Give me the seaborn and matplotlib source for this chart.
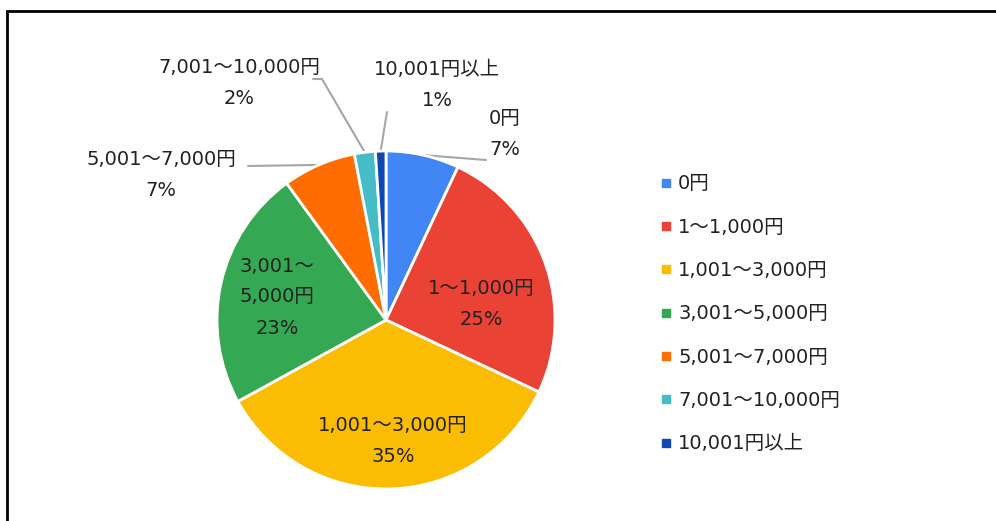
import matplotlib
matplotlib.use("Agg")
import matplotlib.pyplot as plt
import matplotlib.patches as mpatches
from matplotlib.lines import Line2D
import numpy as np
import seaborn as sns

# データ
categories = ["0円", "1～1,000円", "1,001～3,000円", "3,001～5,000円",
              "5,001～7,000円", "7,001～10,000円", "10,001円以上"]
shares = [7, 25, 35, 23, 7, 2, 1]
colors = ["#4285F4", "#EA4335", "#FBBC04", "#34A853",
          "#FF6D01", "#46BDC6", "#1147B5"]

sns.set_theme(style="white")
plt.rcParams["font.family"] = ["DejaVu Sans", "Noto Sans CJK JP"]

W, H = 996, 521
CX, CY, R = 386, 320, 169   # 円グラフの中心と半径 (px)

fig = plt.figure(figsize=(W / 100, H / 100), dpi=100)
ax = fig.add_axes([0, 0, 1, 1])


def px(x, y):
    # ピクセル座標 -> データ座標
    return (x - CX) / R, (CY - y) / R


wedges, _ = ax.pie(shares, colors=colors, startangle=90, counterclock=False,
                   radius=1, wedgeprops=dict(edgecolor="white", linewidth=2))
# pie() が範囲を上書きするので後で設定
ax.set_xlim(-CX / R, (W - CX) / R)
ax.set_ylim(-(H - CY) / R, CY / R)
ax.set_aspect("equal")
ax.axis("off")

fs = 14
tc = "#222222"

# 扇形の中央角度
mids = []
for w in wedges:
    mids.append(np.deg2rad((w.theta1 + w.theta2) / 2))

# 内側ラベル
inside = {1: ("1～1,000円\n25%", (481, 304)),
          2: ("1,001～3,000円\n35%", (393, 441)),
          3: ("3,001～\n5,000円\n23%", (277, 297))}
for i, (txt, pos) in inside.items():
    ax.text(*px(*pos), txt, ha="center", va="center", fontsize=fs,
            color=tc, linespacing=1.8)

# 外側ラベル + 引き出し線
outside = {0: ("0円\n7%", (505, 134), [(486, 160)]),
           4: ("5,001～7,000円\n7%", (161, 175), [(248, 166)]),
           5: ("7,001～10,000円\n2%", (239, 83), [(322, 79), (313, 79)]),
           6: ("10,001円以上\n1%", (437, 85), [(387, 112)])}
for i, (txt, pos, pts) in outside.items():
    ax.text(*px(*pos), txt, ha="center", va="center", fontsize=fs,
            color=tc, linespacing=1.75)
    xs = [np.cos(mids[i])]
    ys = [np.sin(mids[i])]
    for p in pts:
        x, y = px(*p)
        xs.append(x)
        ys.append(y)
    ax.plot(xs, ys, color="#A6A6A6", lw=1.5, zorder=0.5)

# 凡例
handles = [Line2D([], [], marker="s", linestyle="", markersize=5.5,
                  markerfacecolor=c, markeredgecolor=c) for c in colors]
fig.legend(handles, categories, loc="upper left",
           bbox_to_anchor=(643 / W, 1 - 157 / H), frameon=False,
           fontsize=fs, labelspacing=1.25, handlelength=0.6,
           handletextpad=0.3, labelcolor=tc)

# 外枠
fig.patches.append(mpatches.Rectangle((7 / W, -0.1), 1.2, 1 - 11 / H + 0.1,
                                      transform=fig.transFigure, fill=False,
                                      edgecolor="black", linewidth=2))

fig.savefig("out.png", dpi=100)
